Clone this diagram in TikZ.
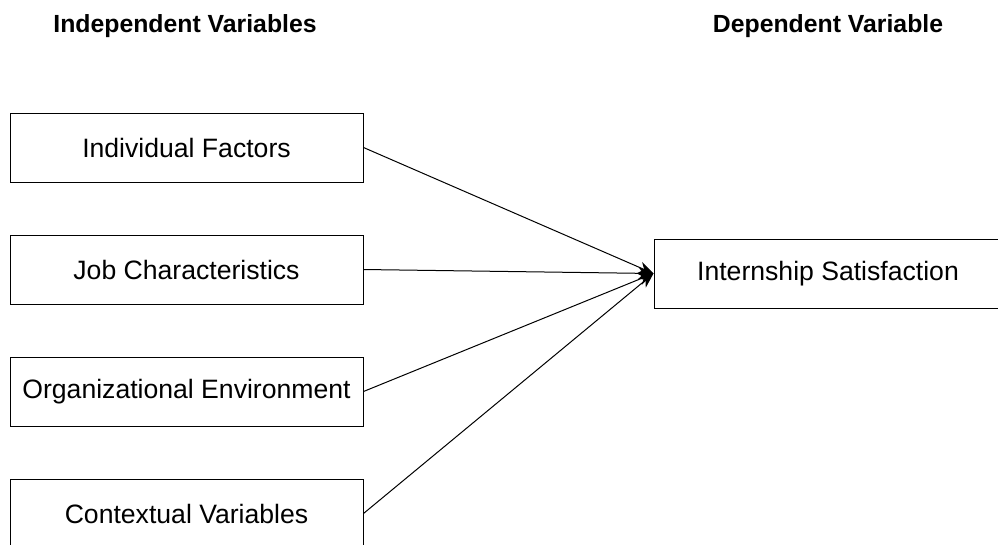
\documentclass[tikz,border=0pt]{standalone}
\usepackage{fontspec}
\setmainfont{Liberation Sans}
\usetikzlibrary{arrows.meta,positioning}
\tikzstyle{heading} = [font=\fontsize{24.8}{30}\selectfont\bfseries, inner sep=0pt]
\tikzstyle{varbox} = [rectangle, minimum width=353pt, minimum height=69pt, text centered, draw=black, line width=1pt, font=\fontsize{26.6}{32}\selectfont]
\tikzstyle{arrow} = [line width=1pt, -{Stealth[length=15pt,width=12pt]}]

\begin{document}
\begin{tikzpicture}[x=1pt, y=-1pt, node distance=122pt]
            \useasboundingbox (0,0) rectangle (998,544);
            \node (indhead) [heading] at (185,26.5) {Independent Variables};
            \node (dephead) [heading] at (828,26.5) {Dependent Variable};

            \node (indiv) [varbox] at (186.5,147.5) {Individual Factors};
            \node (job) [varbox, below of=indiv] {Job Characteristics};
            \node (org) [varbox, below of=job] {Organizational Environment};
            \node (ctx) [varbox, below of=org] {Contextual Variables};
            \node (sat) [varbox, minimum width=348pt] at (828,273.5) {Internship Satisfaction};

            \draw [arrow] (indiv.east) -- (sat.west);
            \draw [arrow] (job.east) -- (sat.west);
            \draw [arrow] (org.east) -- (sat.west);
            \draw [arrow] (ctx.east) -- (sat.west);
        \end{tikzpicture}
\end{document}
